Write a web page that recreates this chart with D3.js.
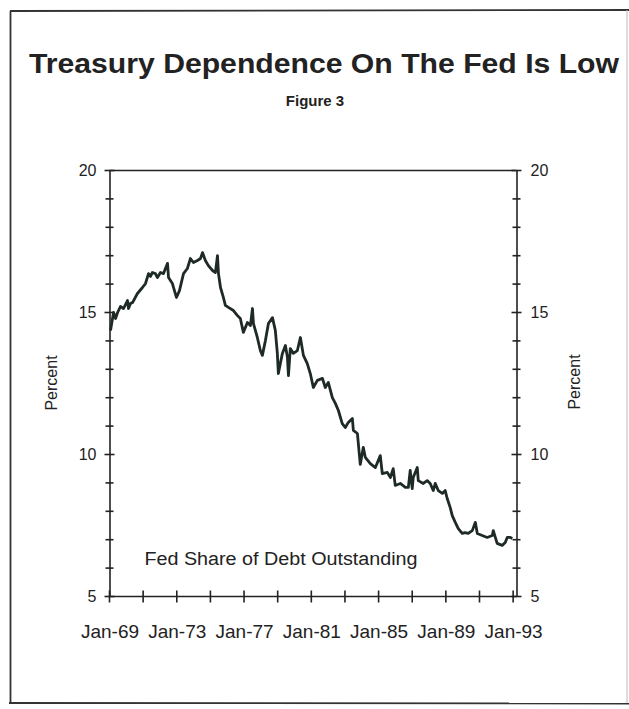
<!DOCTYPE html>
<html>
<head>
<meta charset="utf-8">
<script src="https://cdn.jsdelivr.net/npm/d3@7"></script>
<style>
  html, body { margin: 0; padding: 0; background: #fff; }
  svg { display: block; }
  text { font-family: "Liberation Sans", Arial, Helvetica, sans-serif; fill: #222; }
</style>
</head>
<body>
<svg id="chart" width="629" height="709"></svg>
<script>
// ---- data ----
const title = "Treasury Dependence On The Fed Is Low";
const subtitle = "Figure 3";
const seriesLabel = "Fed Share of Debt Outstanding";
const yAxisLabel = "Percent";

const yMajorTicks = [5, 10, 15, 20];
const yMinorTicks = [6, 7, 8, 9, 11, 12, 13, 14, 16, 17, 18, 19];
const xTickYears = [1969, 1971, 1973, 1975, 1977, 1979, 1981, 1983, 1985, 1987, 1989, 1991, 1993];
const xLabelYears = [1969, 1973, 1977, 1981, 1985, 1989, 1993];
const xLabels = ["Jan-69", "Jan-73", "Jan-77", "Jan-81", "Jan-85", "Jan-89", "Jan-93"];

// time (fractional year) of each observation
const years = [
  1969.06, 1969.24, 1969.36, 1969.48, 1969.65, 1969.83, 1970.07, 1970.13, 1970.25, 1970.37,
  1970.66, 1970.96, 1971.14, 1971.32, 1971.44, 1971.55, 1971.73, 1971.85, 1972.03, 1972.21,
  1972.45, 1972.51, 1972.74, 1972.98, 1973.16, 1973.40, 1973.63, 1973.81, 1973.99, 1974.23,
  1974.41, 1974.53, 1974.70, 1974.88, 1975.12, 1975.30, 1975.42, 1975.48, 1975.60, 1975.77,
  1975.89, 1976.07, 1976.37, 1976.61, 1976.78, 1976.96, 1977.20, 1977.38, 1977.50, 1977.56,
  1977.79, 1977.97, 1978.09, 1978.27, 1978.45, 1978.69, 1978.86, 1978.98, 1979.04, 1979.28,
  1979.46, 1979.58, 1979.64, 1979.75, 1979.93, 1980.17, 1980.35, 1980.53, 1980.76, 1980.94,
  1981.12, 1981.36, 1981.66, 1981.83, 1982.01, 1982.25, 1982.43, 1982.61, 1982.84, 1983.02,
  1983.20, 1983.44, 1983.50, 1983.74, 1983.91, 1984.09, 1984.21, 1984.51, 1984.81, 1985.10,
  1985.22, 1985.52, 1985.70, 1985.87, 1985.99, 1986.29, 1986.59, 1986.77, 1986.88, 1987.00,
  1987.06, 1987.30, 1987.36, 1987.66, 1987.89, 1988.07, 1988.25, 1988.37, 1988.55, 1988.79,
  1988.96, 1989.08, 1989.26, 1989.38, 1989.56, 1989.74, 1989.97, 1990.15, 1990.33, 1990.57,
  1990.75, 1990.87, 1991.16, 1991.46, 1991.76, 1991.82, 1992.05, 1992.35, 1992.53, 1992.65,
  1992.83, 1992.95
];
// Fed share of debt outstanding, percent
const shares = [
  14.37, 15.00, 14.79, 15.00, 15.21, 15.14, 15.42, 15.14, 15.32, 15.35,
  15.67, 15.88, 16.02, 16.37, 16.27, 16.41, 16.37, 16.23, 16.41, 16.37,
  16.73, 16.23, 16.02, 15.53, 15.77, 16.37, 16.55, 16.90, 16.76, 16.83,
  16.90, 17.11, 16.83, 16.65, 16.48, 16.41, 17.00, 16.37, 15.88, 15.53,
  15.25, 15.18, 15.07, 14.89, 14.79, 14.30, 14.65, 14.54, 15.14, 14.61,
  14.12, 13.66, 13.49, 14.01, 14.61, 14.82, 14.37, 13.56, 12.85, 13.56,
  13.84, 13.42, 12.78, 13.73, 13.56, 13.66, 14.12, 13.49, 13.20, 12.85,
  12.36, 12.61, 12.68, 12.36, 12.54, 12.00, 11.80, 11.55, 11.09, 10.95,
  11.13, 11.27, 10.85, 10.74, 9.65, 10.25, 9.90, 9.68, 9.54, 9.96,
  9.33, 9.37, 9.19, 9.50, 8.91, 8.98, 8.84, 8.84, 9.44, 8.80,
  9.19, 9.54, 9.08, 8.98, 9.08, 8.98, 8.73, 8.98, 8.73, 8.63,
  8.73, 8.45, 8.13, 7.85, 7.61, 7.39, 7.22, 7.25, 7.22, 7.32,
  7.61, 7.22, 7.15, 7.08, 7.15, 7.32, 6.87, 6.80, 6.90, 7.08,
  7.08, 7.04
];
const data = years.map((t, i) => ({ t, v: shares[i] }));

// ---- layout ----
const svg = d3.select("#chart");
const pLeft = 109.5, pRight = 516.5, pTop = 170.5, pBottom = 596.5;
const FONT = '"Liberation Sans", Arial, sans-serif';

const x = d3.scaleLinear().domain([1969, 1993.2]).range([pLeft, pRight]);
const y = d3.scaleLinear().domain([5, 20]).range([pBottom, pTop]);

// outer frame
const frame = svg.append("g").attr("stroke", "#333").attr("fill", "none");
frame.append("line").attr("x1", 10).attr("y1", 11).attr("x2", 629).attr("y2", 10).attr("stroke-width", 1.8);
frame.append("line").attr("x1", 10.5).attr("y1", 11).attr("x2", 10.5).attr("y2", 703).attr("stroke-width", 1.8);
frame.append("line").attr("x1", 9).attr("y1", 703).attr("x2", 629).attr("y2", 703.5).attr("stroke-width", 1.8);
frame.append("line").attr("x1", 627).attr("y1", 10).attr("x2", 627).attr("y2", 703).attr("stroke", "#bbb").attr("stroke-width", 1);

// titles
svg.append("text").attr("x", 324).attr("y", 73).attr("text-anchor", "middle")
  .attr("font-size", 28).attr("font-weight", "bold").attr("fill", "#383838")
  .attr("textLength", 590).attr("lengthAdjust", "spacingAndGlyphs")
  .text(title);
svg.append("text").attr("x", 315).attr("y", 106).attr("text-anchor", "middle")
  .attr("font-size", 15).attr("font-weight", "bold")
  .text(subtitle);

// plot box (top/bottom lines)
const box = svg.append("g").attr("stroke", "#222").attr("stroke-width", 1.6).attr("fill", "none");
box.append("line").attr("x1", pLeft).attr("x2", pRight).attr("y1", pTop).attr("y2", pTop);
box.append("line").attr("x1", pLeft).attr("x2", pRight).attr("y1", pBottom).attr("y2", pBottom);

// left axis
const axL = svg.append("g").attr("transform", `translate(${pLeft},0)`)
  .call(d3.axisLeft(y).tickValues(yMajorTicks).tickSize(0).tickPadding(13).tickFormat(d3.format("d")));
axL.select(".domain").attr("stroke", "#222").attr("stroke-width", 1.6);
axL.selectAll("text").attr("font-size", 16).attr("fill", "#222").style("font-family", FONT);

// right axis
const axR = svg.append("g").attr("transform", `translate(${pRight},0)`)
  .call(d3.axisRight(y).tickValues(yMajorTicks).tickSize(0).tickPadding(14).tickFormat(d3.format("d")));
axR.select(".domain").attr("stroke", "#222").attr("stroke-width", 1.6);
axR.selectAll("text").attr("font-size", 16).attr("fill", "#222").style("font-family", FONT);

// crossing tick marks on vertical axes
const tickG = svg.append("g").attr("stroke", "#222").attr("stroke-width", 1.6);
[pLeft, pRight].forEach(ax => {
  tickG.selectAll(null).data(yMajorTicks).enter().append("line")
    .attr("x1", ax - 5).attr("x2", ax + 5).attr("y1", d => y(d)).attr("y2", d => y(d));
  tickG.selectAll(null).data(yMinorTicks).enter().append("line")
    .attr("x1", ax - 4).attr("x2", ax + 4).attr("y1", d => y(d)).attr("y2", d => y(d));
});

// bottom axis
const axB = svg.append("g").attr("transform", `translate(0,${pBottom})`)
  .call(d3.axisBottom(x).tickValues(xLabelYears).tickSize(0).tickPadding(28)
    .tickFormat((d, i) => xLabels[i]));
axB.select(".domain").remove();
axB.selectAll("text").attr("font-size", 19).attr("fill", "#222").style("font-family", FONT);
tickG.selectAll(null).data(xTickYears).enter().append("line")
  .attr("x1", d => x(d)).attr("x2", d => x(d)).attr("y1", pBottom - 6).attr("y2", pBottom + 6);

// axis titles
svg.append("text").attr("transform", "translate(57,383) rotate(-90)")
  .attr("text-anchor", "middle").attr("font-size", 16).text(yAxisLabel);
svg.append("text").attr("transform", "translate(580,382) rotate(-90)")
  .attr("text-anchor", "middle").attr("font-size", 16).text(yAxisLabel);

// series label
svg.append("text").attr("x", 281).attr("y", 565).attr("text-anchor", "middle")
  .attr("font-size", 18).attr("textLength", 273).attr("lengthAdjust", "spacingAndGlyphs")
  .text(seriesLabel);

// line
const line = d3.line().x(d => x(d.t)).y(d => y(d.v)).curve(d3.curveLinear);
svg.append("path").datum(data).attr("d", line)
  .attr("fill", "none").attr("stroke", "#1e2a26").attr("stroke-width", 2.8)
  .attr("stroke-linejoin", "round");
</script>
</body>
</html>
